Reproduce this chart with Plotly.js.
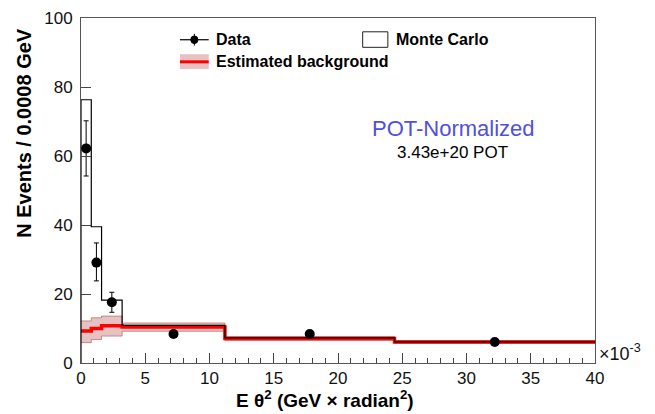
<!DOCTYPE html>
<html>
<head>
<meta charset="utf-8">
<script src="https://cdn.plot.ly/plotly-3.0.1.min.js"></script>
<style>html,body{margin:0;padding:0;background:#fff;}#chart{width:655px;height:414px;}</style>
</head>
<body>
<div id="chart"></div>
<script>
// Bin edges (units of 1e-3 GeV x rad^2)
const binEdges = [0, 0.8, 1.6, 3.2, 11.2, 24.4, 40];
// Monte Carlo histogram
const mcValues = [76.3, 39.5, 18.2, 10.9, 7.3, 6.1];
// Estimated background and its uncertainty band
const bkgValues = [9.3, 10.0, 10.8, 10.4, 7.1, 6.1];
const bkgUpper = [12.2, 13.1, 13.6, 11.6, 7.7, 6.5];
const bkgLower = [5.9, 6.8, 7.8, 9.2, 6.5, 5.7];
// Data points
const dataX = [0.4, 1.2, 2.4, 7.2, 17.8, 32.2];
const dataY = [62.2, 29.1, 17.6, 8.4, 8.4, 6.1];
const dataErrUp = [8.0, 5.7, 2.9, 0, 0, 0];
const dataErrDown = [8.0, 5.3, 2.9, 0, 0, 0];
// Tick labels
const xTickVals = [0, 5, 10, 15, 20, 25, 30, 35, 40];
const yTickVals = [0, 20, 40, 60, 80, 100];

function stepY(vals) { return vals.concat([vals[vals.length - 1]]); }

// band polygon
const bandX = [], bandY = [];
for (let i = 0; i < bkgUpper.length; i++) {
  bandX.push(binEdges[i], binEdges[i + 1]);
  bandY.push(bkgUpper[i], bkgUpper[i]);
}
for (let i = bkgLower.length - 1; i >= 0; i--) {
  bandX.push(binEdges[i + 1], binEdges[i]);
  bandY.push(bkgLower[i], bkgLower[i]);
}

const traces = [
  {
    x: bandX, y: bandY, type: 'scatter', mode: 'lines', fill: 'toself',
    fillcolor: 'rgba(200,120,120,0.45)', line: {color: 'rgba(170,70,70,0.55)', width: 1},
    hoverinfo: 'skip', showlegend: false
  },
  {
    x: binEdges, y: stepY(bkgValues), type: 'scatter', mode: 'lines',
    line: {color: '#ff0000', width: 3.5, shape: 'hv'}, showlegend: false
  },
  {
    x: [0].concat(binEdges), y: [0].concat(stepY(mcValues)), type: 'scatter', mode: 'lines',
    line: {color: '#000000', width: 1.2, shape: 'hv'}, showlegend: false
  },
  {
    x: dataX, y: dataY, type: 'scatter', mode: 'markers',
    marker: {color: '#000', size: 10},
    error_y: {type: 'data', symmetric: false, array: dataErrUp, arrayminus: dataErrDown,
              color: '#000', thickness: 1, width: 2.5},
    showlegend: false
  }
];

const fontFam = '"Liberation Sans", Arial, Helvetica, sans-serif';

const layout = {
  width: 655, height: 414,
  margin: {l: 81, r: 60, t: 18, b: 51},
  paper_bgcolor: '#fff', plot_bgcolor: '#fff',
  showlegend: false,
  font: {family: fontFam, color: '#000'},
  xaxis: {
    range: [0, 40], tickvals: xTickVals, ticktext: xTickVals.map(String),
    ticks: 'inside', ticklen: 10, tickwidth: 1, tickcolor: '#444',
    minor: {dtick: 1, ticks: 'inside', ticklen: 5, tickwidth: 1, tickcolor: '#444'},
    showgrid: false, zeroline: false, showline: true, linecolor: '#555', linewidth: 1, mirror: true,
    tickfont: {size: 17, family: fontFam, color: '#111'}, ticklabelstandoff: 0
  },
  yaxis: {
    range: [0, 100], tickvals: yTickVals, ticktext: yTickVals.map(String),
    ticks: 'inside', ticklen: 10, tickwidth: 1, tickcolor: '#444',
    showgrid: false, zeroline: false, showline: true, linecolor: '#555', linewidth: 1, mirror: true,
    tickfont: {size: 17, family: fontFam, color: '#111'}, ticklabelstandoff: 4
  },
  annotations: [
    {xref: 'paper', yref: 'paper', x: -0.111, y: 0.667, text: '<b>N Events / 0.0008 GeV</b>',
     textangle: -90, showarrow: false, font: {size: 20, family: fontFam}, xanchor: 'center', yanchor: 'middle'},
    {xref: 'paper', yref: 'paper', x: 0.474, y: -0.104, text: '<b>E θ<sup>2</sup> (GeV × radian<sup>2</sup>)</b>',
     showarrow: false, font: {size: 19, family: fontFam}, xanchor: 'center', yanchor: 'middle'},
    {xref: 'paper', yref: 'paper', x: 1.003, y: 0.03, text: '×10<sup>-3</sup>',
     showarrow: false, font: {size: 18, family: fontFam, color: '#111'}, xanchor: 'left', yanchor: 'middle'},
    {xref: 'paper', yref: 'paper', x: 0.724, y: 0.681, text: 'POT-Normalized',
     showarrow: false, font: {size: 22, family: fontFam, color: '#5050e0'}, xanchor: 'center', yanchor: 'middle'},
    {xref: 'paper', yref: 'paper', x: 0.722, y: 0.609, text: '3.43e+20 POT',
     showarrow: false, font: {size: 17, family: fontFam, color: '#000'}, xanchor: 'center', yanchor: 'middle'},
    // legend texts
    {xref: 'paper', yref: 'paper', x: 0.259, y: 0.937, text: '<b>Data</b>',
     showarrow: false, font: {size: 16, family: fontFam}, xanchor: 'left', yanchor: 'middle'},
    {xref: 'paper', yref: 'paper', x: 0.609, y: 0.937, text: '<b>Monte Carlo</b>',
     showarrow: false, font: {size: 16, family: fontFam}, xanchor: 'left', yanchor: 'middle'},
    {xref: 'paper', yref: 'paper', x: 0.259, y: 0.873, text: '<b>Estimated background</b>',
     showarrow: false, font: {size: 16, family: fontFam}, xanchor: 'left', yanchor: 'middle'}
  ],
  shapes: [
    // Data legend symbol
    {type: 'line', xref: 'paper', yref: 'paper', x0: 0.1925, x1: 0.2485, y0: 0.937, y1: 0.937, line: {color: '#000', width: 1.2}},
    {type: 'line', xref: 'paper', yref: 'paper', x0: 0.2205, x1: 0.2205, y0: 0.92, y1: 0.954, line: {color: '#000', width: 1}},
    {type: 'circle', xref: 'paper', yref: 'paper', x0: 0.2135, x1: 0.2275, y0: 0.926, y1: 0.948, fillcolor: '#000', line: {color: '#000', width: 1}},
    // MC legend box
    {type: 'rect', xref: 'paper', yref: 'paper', x0: 0.548, x1: 0.597, y0: 0.915, y1: 0.96, fillcolor: '#fff', line: {color: '#222', width: 1}},
    // background legend
    {type: 'rect', xref: 'paper', yref: 'paper', x0: 0.1925, x1: 0.2485, y0: 0.852, y1: 0.895, fillcolor: 'rgba(200,120,120,0.45)', line: {width: 0}},
    {type: 'line', xref: 'paper', yref: 'paper', x0: 0.1925, x1: 0.2485, y0: 0.873, y1: 0.873, line: {color: '#ff0000', width: 3}}
  ]
};

Plotly.newPlot('chart', traces, layout, {displayModeBar: false, staticPlot: true});
</script>
</body>
</html>
